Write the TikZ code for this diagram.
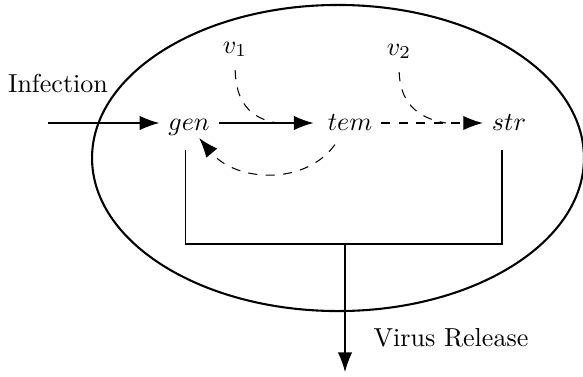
\documentclass[tikz,border=0pt]{standalone}
\usetikzlibrary{arrows.meta,calc}
\begin{document}
\begin{tikzpicture}[x=0.3842pt,y=-0.3842pt,
  lbl/.style={inner sep=3.33pt,text height=1.5ex,text depth=.25ex},
  conn/.style={line width=0.4pt},
  tip/.style={-{Latex[length=7.5pt,width=5.5pt]}},
  dconn/.style={line width=0.4pt,dash pattern=on 3.5pt off 3.2pt}]
\useasboundingbox (0,0) rectangle (583,376);
% cell
\draw[line width=0.8pt] (338,158) ellipse [x radius=94.5pt, y radius=58.8pt];
% nodes
\node[lbl] (gen) at (189,123) {$gen$};
\node[lbl] (tem) at (350,123) {$tem$};
\node[lbl] (str) at (509,123) {$str$};
\node[lbl] (v1) at (235,46) {$v_1$};
\node[lbl] (v2) at (399,48) {$v_2$};
\node (inf) at (58,83) {Infection};
\node (vr) at (451,338) {Virus Release};
\coordinate (in0) at (48,123);
\coordinate (m1) at (277,123);
\coordinate (m2) at (446,123);
\coordinate (j) at (345,244);
\coordinate (out) at (345,372);
% connectors
\draw[conn,tip] (in0) -- (gen.west);
\draw[conn,tip] (gen.east) -- ([xshift=-2pt]tem.west);
\draw[dconn,tip] (tem.east) -- (str.west);
\draw[dconn,shorten <=2pt] (v1.south) .. controls (236,100) and (248,118) .. (m1);
\draw[dconn,shorten <=2pt] (v2.south) .. controls (400,100) and (415,118) .. (m2);
\draw[dconn,tip] ([xshift=-5.8pt,yshift=-1pt]tem.south) .. controls (305,186) and (236,182) .. ([xshift=-7.5pt,yshift=1.5pt]gen.south east);
\draw[conn] ([xshift=-1.5pt,yshift=-3pt]gen.south) |- (j) -| ([xshift=-2.7pt,yshift=-3pt]str.south);
\draw[conn,tip] (j) -- (out);
\end{tikzpicture}
\end{document}
